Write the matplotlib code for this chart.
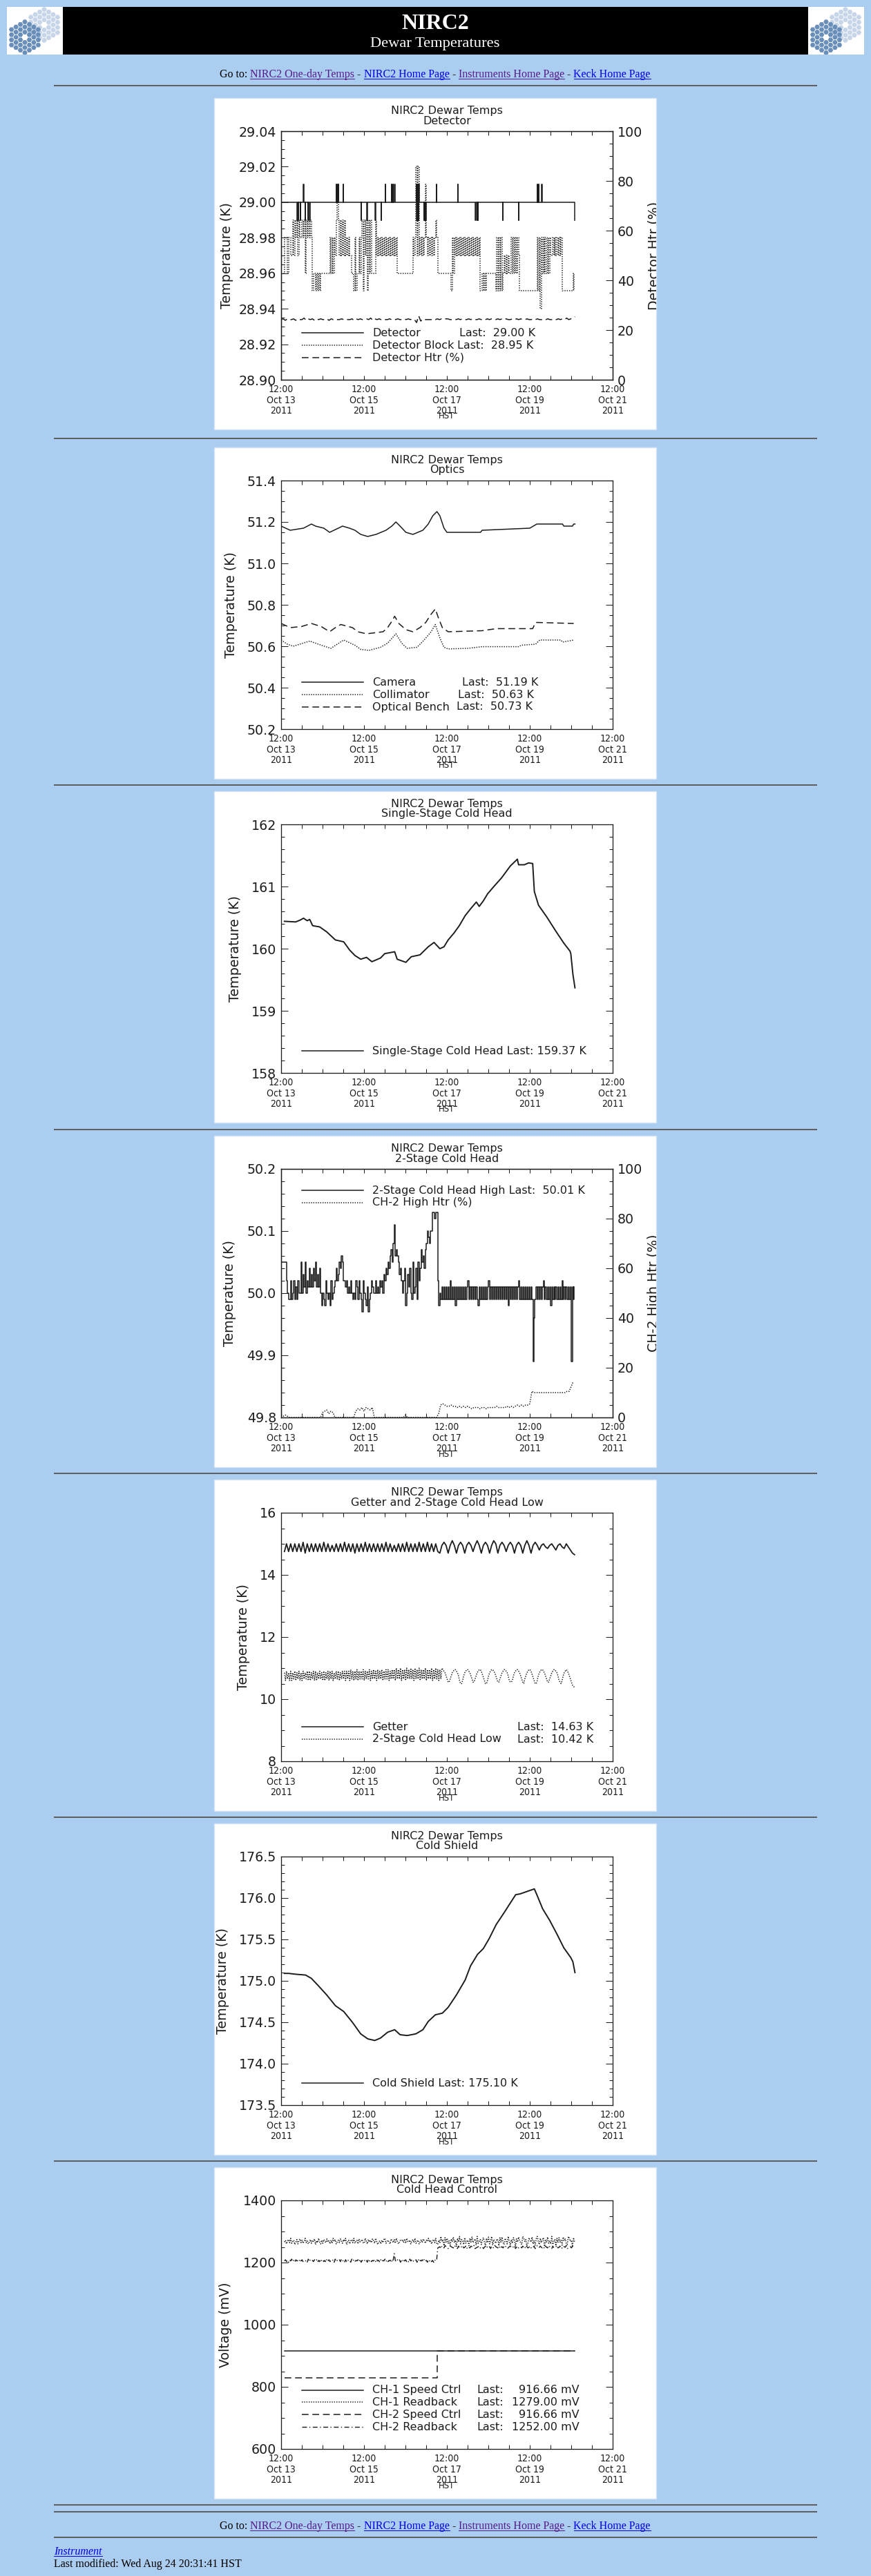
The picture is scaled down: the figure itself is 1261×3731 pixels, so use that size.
import numpy as np
import matplotlib
matplotlib.use("Agg")
import matplotlib.pyplot as plt
from matplotlib.patches import Rectangle, RegularPolygon
from matplotlib.ticker import MultipleLocator, FormatStrFormatter
from matplotlib.transforms import Bbox

plt.rcParams['lines.scale_dashes'] = False
plt.rcParams['font.family'] = ['DejaVu Sans']

# ======================= DATA =======================
# time axis: days since 12:00 Oct 13 2011 (HST)
XTICK_DAYS = [0, 2, 4, 6, 8]
XTICK_LABELS = ["12:00\nOct 13\n2011", "12:00\nOct 15\n2011", "12:00\nOct 17\n2011",
                "12:00\nOct 19\n2011", "12:00\nOct 21\n2011"]

# --- Panel 1: Detector ---
DET_PTS = [(0.0, 29.00), (0.39, 28.99), (0.396, 29.00), (0.41, 28.99), (0.416, 29.00),
           (0.46, 28.99), (0.466, 29.00), (0.54, 29.01), (0.546, 29.00), (0.58, 28.99),
           (0.586, 29.00), (0.65, 28.99), (0.656, 29.00), (0.68, 28.99), (0.696, 29.00),
           (1.33, 29.01), (1.336, 29.00), (1.36, 29.01), (1.366, 29.00), (1.38, 29.01),
           (1.386, 29.00), (1.50, 29.01), (1.506, 29.00), (1.93, 28.99), (1.936, 29.00),
           (2.07, 28.99), (2.076, 29.00), (2.27, 28.99), (2.276, 29.00), (2.41, 28.99),
           (2.416, 29.00), (2.51, 29.01), (2.516, 29.00), (2.66, 29.01), (2.666, 29.00),
           (2.70, 29.01), (2.706, 29.00), (2.74, 29.01), (2.746, 29.00), (3.26, 29.01),
           (3.266, 29.00), (3.27, 28.99), (3.276, 29.00), (3.28, 29.01), (3.286, 29.00),
           (3.29, 28.99), (3.296, 29.00), (3.30, 29.01), (3.306, 29.00), (3.31, 28.99),
           (3.316, 29.00), (3.32, 29.01), (3.326, 29.00), (3.45, 28.99), (3.456, 29.00),
           (3.47, 28.99), (3.476, 29.00), (3.49, 28.99), (3.496, 29.00), (3.75, 29.01),
           (3.756, 29.00), (4.26, 29.01), (4.266, 29.00), (4.69, 28.99), (4.696, 29.00),
           (4.73, 28.99), (4.736, 29.00), (4.75, 28.99), (4.756, 29.00), (5.35, 28.99),
           (5.356, 29.00), (5.73, 28.99), (5.736, 29.00), (6.18, 29.01), (6.186, 29.00),
           (6.21, 29.01), (6.216, 29.00), (6.29, 29.01), (6.296, 29.00), (7.08, 28.99),
           (7.09, 28.99)]
# Detector block, sampled every 0.025 d; code -> 28.94 + 0.01*index in BLK_ALPHA
BLK_ALPHA = "4567890ab"
BLK_SEGS = ["66688", "86887", "797989798", "898969898985", "6656565666", "66666", "686868",
            "7909797979", "787877", "6658", "566868", "959795969", "6666",
            "97878787878787878", "7878", "66666666666666", "6878", "b7b7",
            "87878a87878787898", "6666666666666", "5868", "787878787878787878787878",
            "55656566", "6666666", "5858585", "6767676", "686868687", "5555555555555555",
            "585848686868687", "7878787878", "555555555556", "5"]
# Detector heater %, every 0.05 d; code -> 23.0 + 0.3*digit
HTR_CODES = ("4535445354" "4635453545" "4453545445" "4544535454" "4546354545" "4454545445"
             "4545409254" "4445454545" "5445454544" "5454454545" "4544545454" "4545454454"
             "4545445454" "45454546" "4568")

# --- Panel 2: Optics ---
CAM_PTS = [(0.0, 51.18), (0.22, 51.16), (0.54, 51.17), (0.73, 51.19), (0.83, 51.18),
           (1.03, 51.17), (1.17, 51.15), (1.38, 51.17), (1.48, 51.18), (1.65, 51.17),
           (1.78, 51.16), (1.92, 51.14), (2.09, 51.13), (2.29, 51.14), (2.53, 51.16),
           (2.67, 51.18), (2.77, 51.20), (2.87, 51.18), (3.01, 51.15), (3.18, 51.14),
           (3.42, 51.16), (3.55, 51.19), (3.66, 51.23), (3.76, 51.25), (3.83, 51.23),
           (3.93, 51.17), (4.00, 51.15), (4.81, 51.15), (4.85, 51.16), (6.00, 51.17),
           (6.17, 51.19), (6.79, 51.19), (6.82, 51.18), (7.03, 51.18), (7.06, 51.19),
           (7.09, 51.19)]
COL_PTS = [(0.0, 50.63), (0.15, 50.61), (0.29, 50.60), (0.69, 50.625), (0.97, 50.605),
           (1.20, 50.59), (1.51, 50.63), (1.78, 50.605), (1.92, 50.585), (2.12, 50.58),
           (2.40, 50.595), (2.57, 50.615), (2.77, 50.66), (2.91, 50.615), (3.04, 50.59),
           (3.28, 50.595), (3.45, 50.63), (3.62, 50.67), (3.72, 50.705), (3.83, 50.64),
           (3.93, 50.595), (4.03, 50.587), (4.51, 50.59), (4.85, 50.598), (5.73, 50.598),
           (5.80, 50.605), (6.14, 50.61), (6.24, 50.63), (6.75, 50.63), (6.79, 50.62),
           (7.06, 50.63)]
OB_PTS = [(0.0, 50.71), (0.22, 50.69), (0.49, 50.695), (0.73, 50.71), (0.97, 50.695),
          (1.17, 50.67), (1.31, 50.69), (1.44, 50.705), (1.72, 50.69), (1.85, 50.67),
          (2.06, 50.66), (2.46, 50.67), (2.57, 50.69), (2.67, 50.72), (2.74, 50.745),
          (2.84, 50.71), (3.01, 50.68), (3.18, 50.67), (3.35, 50.69), (3.49, 50.715),
          (3.62, 50.755), (3.72, 50.78), (3.79, 50.74), (3.89, 50.69), (4.03, 50.67),
          (4.85, 50.675), (5.19, 50.685), (6.07, 50.685), (6.14, 50.715), (7.06, 50.71)]

# --- Panel 3: Single-stage cold head ---
SS_PTS = [(0.08, 160.44), (0.35, 160.43), (0.46, 160.46), (0.54, 160.49), (0.63, 160.45),
          (0.69, 160.47), (0.76, 160.37), (0.93, 160.35), (1.10, 160.27), (1.31, 160.14),
          (1.51, 160.11), (1.65, 159.98), (1.78, 159.89), (1.92, 159.83), (2.06, 159.86),
          (2.19, 159.79), (2.40, 159.85), (2.50, 159.92), (2.74, 159.95), (2.80, 159.83),
          (3.01, 159.78), (3.14, 159.87), (3.35, 159.90), (3.55, 160.03), (3.69, 160.10),
          (3.83, 160.00), (3.93, 160.03), (4.03, 160.14), (4.17, 160.25), (4.30, 160.37),
          (4.44, 160.53), (4.57, 160.64), (4.71, 160.75), (4.78, 160.68), (4.88, 160.77),
          (4.98, 160.88), (5.12, 160.99), (5.32, 161.14), (5.53, 161.33), (5.70, 161.44),
          (5.73, 161.35), (5.87, 161.35), (5.97, 161.38), (6.07, 161.37), (6.11, 160.92),
          (6.21, 160.70), (6.41, 160.51), (6.62, 160.29), (6.82, 160.09), (6.97, 159.96),
          (6.99, 159.92), (7.04, 159.59), (7.09, 159.37)]

# --- Panel 4: 2-stage cold head (every 0.025 d; code -> 49.88 + 0.01*index) ---
CH2_ALPHA = "0123456789abcdefghijklmnop"
CH2_SEGS = ["hhhhh", "ecb", "bebcebdbec", "chcfdhce", "dgdfdgehdfdgc", "acbaec", "bcaebcd",
            "egefhgihe", "edecdcec", "bcbedbec", "b9ecbad9bcedc", "cecdcedec", "fegfhg",
            "ijhknij", "ihfge", "cegacfdgc", "bhcdgbhe", "gjhigj", "kmlkmm", "ppopp", "eac",
            "bdbdbdbdbebdbdadbdbdbdbdbdebdbdbdbdbadbdbdbdbdebdbdbdbdbdbdbdbdbdadbdbdbdbdebdbdbdbdbdbdbdbdbdb"[:89],
            "18", "bdbdbdbdebdbdbdadbdbdbdbdbebdbdbdbd", "1", "dbd"]
# CH-2 high heater %, every 0.05 d; code -> 0.5*index
HTR2_ALPHA = "0123456789abcdefghijklmnopqrst"
HTR2_SEGS = ["21210000000000000000", "456354", "0000000000", "576858768", "000000000000000",
             "20", "00000000000000", "3ab", "a99a99898989", "87888788788889888898",
             "989a9a9aab", "lkkkkkkkkkkkkkkkkll", "pt"]

# --- Panel 5: Getter / 2-stage low ---
GET_ALPHA = "0123456789ab"      # 14.6 + 0.05*index, every 0.05 d from 0.08
GET_SEGS = ["3838383839", "2838383839", "3837383839", "3838283839", "3838383839",
            "3837383839", "3838393839", "38383",
            "2797", "27a7", "2797", "2797", "37a7", "2797", "27a8", "2797", "3797", "2797",
            "27a7", "2797", "4786", "5786", "4786", "5", "86421"]
LOW_ALPHA = "0123456789abcdef"  # 10.3 + 0.05*index, every 0.025 d from 0.08
LOW_SEGS = ["b6c7b6c6b7", "c6b7c6b6c7", "b7c6c6b7c6", "c6b7c7b6c6", "b7c6c7c6b7",
            "c7c6b7c7c6", "c7c6d7c6c7", "d6c7c7d6c7", "c7d6c7d7c6", "d7c7d6c7d7",
            "d6c7d7d6e7", "d7e6d7d6e7", "d7e7d6e7d7", "e6d7d7e6d7", "d7e6d7e7d6", "d7e",
            "dcb975579bcd", "dcb964469bcd", "dcb975579bcd", "dca864469bcd", "dcb975579bcd",
            "dcb965569bcd", "dcb975479bcd", "dca864469bcd", "dcb975579bcd", "dcb965469bcd",
            "cb975322"]

# --- Panel 6: Cold shield ---
CS_PTS = [(0.08, 175.09), (0.18, 175.09), (0.35, 175.08), (0.59, 175.07), (0.73, 175.03),
          (0.90, 174.94), (1.10, 174.83), (1.31, 174.70), (1.51, 174.63), (1.72, 174.50),
          (1.92, 174.36), (2.09, 174.30), (2.26, 174.28), (2.40, 174.31), (2.57, 174.38),
          (2.74, 174.41), (2.87, 174.35), (3.04, 174.34), (3.25, 174.36), (3.42, 174.41),
          (3.55, 174.51), (3.72, 174.59), (3.89, 174.61), (4.03, 174.68), (4.23, 174.83),
          (4.44, 175.01), (4.57, 175.18), (4.74, 175.32), (4.88, 175.39), (5.02, 175.51),
          (5.19, 175.68), (5.39, 175.83), (5.53, 175.94), (5.66, 176.04), (5.77, 176.05),
          (5.94, 176.08), (6.11, 176.11), (6.17, 176.04), (6.31, 175.87), (6.48, 175.73),
          (6.65, 175.57), (6.82, 175.40), (6.99, 175.28), (7.04, 175.23), (7.09, 175.10)]

# --- Panel 7: Cold head control (mV) ---
SPD1_T = [0.08, 7.09]
SPD1_V = [916.66, 916.66]
SPD2_T = [0.08, 3.76, 3.76, 7.09]
SPD2_V = [830.0, 830.0, 916.66, 916.66]
RB_ALPHA = "0123456789abcdefghijklmnopqrstuvwxyz"
RB1_SEGS = ["dgafhcjbeg", "9dhaficgbe", "jcfadhbgei", "9fcjdagbhe", "cidfagbjeh", "adgcifbhej",
            "9dgafhcjbe", "gaidfhcbje", "ahdgcifbje", "9dfagchjbe", "gdaifchbje", "adgfhcibje",
            "dgafhcjbeg", "adhcifbgej", "dgafhcjb",
            "9gcmeh7kdj", "bf8ielcg6j", "dmahf9kbeg", "7jdlcfi8mb", "eh9gkd6jcl", "afm8hebig7",
            "kdlc9jfame", "8hbkg6idlf", "c9mjeh7bkg", "dlaf8ime9j", "chk6gdlbfa", "m9eh7jckdg",
            "8lfib9mjeg7kd"]   # 1240 + 2*index
RB2_SEGS = ["5746375846", "3756485746", "5638475647", "5736485746", "3857465738", "4657485637",
            "4756385746", "5748365746", "3857465748", "5637465847", "465837h647", "5736485746",
            "3857465738", "4657485637", "57463758",
            "qrsptrqusr", "pqtsrqusrp", "tqrsuqrtps", "rqtsrupqrs", "tqrsprtuqr", "sptrqusrqt",
            "prsqturpqs", "trqsuprtqr", "sqtrpusqrt", "qsrtpqusrt", "rqsptrqusr", "ptqrsuqrtp",
            "qtsrupqrsqtrs"]   # 1195 + 2*index

# ======================= HELPERS =======================
def decode(segs, alpha, base, step):
    s = "".join(segs)
    return np.array([base + step * alpha.index(c) for c in s])

def pts(p):
    a = np.array(p)
    return a[:, 0], a[:, 1]

W, H = 1261, 3731
PX = 0.72
INK = '#1c1c1c'
BLUE_BG = '#ABCDEF'
SERIF = ['Liberation Serif', 'DejaVu Serif']
SOLID = dict(linestyle='-', lw=1.1)
DOT = dict(linestyle=(0, (1.0, 1.4)), lw=1.1)
DASH = dict(linestyle=(0, (7.0, 4.0)), lw=1.1)
DASHDOT = dict(linestyle=(0, (5.0, 2.5, 1.0, 2.5)), lw=1.0)

fig = plt.figure(figsize=(W / 100, H / 100), dpi=100)
fig.patch.set_facecolor(BLUE_BG)
bg = fig.add_axes([0, 0, 1, 1])
bg.set_xlim(0, W)
bg.set_ylim(H, 0)
bg.axis('off')
renderer = fig.canvas.get_renderer()

def hr(y):
    bg.add_patch(Rectangle((78, y - 1), 1105, 2, facecolor='#5e5e5e', edgecolor='none'))

def text_run(segs, x0, baseline, size, center=True):
    objs = []
    for txt, col, ul, style in segs:
        t = bg.text(0, baseline, txt, color=col, fontsize=size * PX, family=SERIF,
                    style=style, va='baseline', ha='left')
        objs.append((t, col, ul))
    widths = [o[0].get_window_extent(renderer).width for o in objs]
    x = x0 - sum(widths) / 2 if center else x0
    for (t, col, ul), w in zip(objs, widths):
        t.set_x(x)
        if ul:
            bg.plot([x, x + w], [baseline + 2, baseline + 2], color=col, lw=1.0 * PX)
        x += w

PURPLE, LINK = '#551A8B', '#0000EE'
GOTO = [("Go to: ", 'black', False, 'normal'), ("NIRC2 One-day Temps", PURPLE, True, 'normal'),
        (" - ", 'black', False, 'normal'), ("NIRC2 Home Page", LINK, True, 'normal'),
        (" - ", 'black', False, 'normal'), ("Instruments Home Page", PURPLE, True, 'normal'),
        (" - ", 'black', False, 'normal'), ("Keck Home Page", LINK, True, 'normal')]

# ======================= HEADER =======================
def logo(x0, y0=10):
    clip = Rectangle((x0, y0), 81, 69, facecolor='white', edgecolor='none')
    bg.add_patch(clip)
    s = 4.3
    for cx, cy, col in [(x0 + 54, y0 + 26, '#c6d5e8'), (x0 + 26, y0 + 44, '#6a8eba')]:
        for q in range(-3, 4):
            for r in range(-3, 4):
                if max(abs(q), abs(r), abs(q + r)) > 3 or (q == 0 and r == 0):
                    continue
                hx = cx + 1.5 * s * q
                hy = cy + np.sqrt(3) * s * (r + q / 2)
                p = RegularPolygon((hx, hy), 6, radius=s * 0.88, orientation=np.pi / 6,
                                   facecolor=col, edgecolor='none')
                bg.add_patch(p)
                p.set_clip_path(clip)

logo(10)
logo(1170)
bg.add_patch(Rectangle((91, 10), 1079, 69, facecolor='black', edgecolor='none'))
bg.text(630, 42, "NIRC2", color='white', fontsize=32 * PX, family=SERIF, weight='bold',
        ha='center', va='baseline')
bg.text(630, 68, "Dewar Temperatures", color='white', fontsize=22.5 * PX, family=SERIF,
        ha='center', va='baseline')
text_run(GOTO, 630, 112, 16)
hr(124)

# ======================= PANELS =======================
PANEL_TOPS = [142, 648, 1146, 1645, 2143, 2641, 3139]
AXL, AXT, AXW, AXH = 97, 48, 480, 360

def make_panel(i, subtitle, ylim, major, minor, fmt, ylabel, ylab_x,
               twin=None):
    top = PANEL_TOPS[i]
    bg.add_patch(Rectangle((310, top), 640, 480, facecolor='white', edgecolor='#d6e4f5',
                           lw=1.0, zorder=1))
    ax = fig.add_axes([(310 + AXL) / W, 1 - (top + AXT + AXH) / H, AXW / W, AXH / H])
    ax.set_facecolor('none')
    ax.set_xlim(0, 8)
    ax.set_ylim(*ylim)
    ax.set_xticks(XTICK_DAYS)
    ax.set_xticklabels(XTICK_LABELS, fontsize=14 * PX, linespacing=1.16, color=INK,
                       fontstretch='condensed')
    ax.xaxis.set_minor_locator(MultipleLocator(0.5))
    ax.yaxis.set_major_locator(MultipleLocator(major))
    ax.yaxis.set_minor_locator(MultipleLocator(minor))
    ax.yaxis.set_major_formatter(FormatStrFormatter(fmt))
    ax.tick_params(axis='x', which='both', direction='in', length=6 * PX, width=PX,
                   top=True, pad=5, color=INK)
    ax.tick_params(axis='y', which='major', direction='in', length=10 * PX, width=PX,
                   right=(twin is None), labelsize=19 * PX, labelcolor=INK, pad=5, color=INK)
    ax.tick_params(axis='y', which='minor', direction='in', length=5 * PX, width=PX,
                   right=(twin is None), color=INK)
    for sp in ax.spines.values():
        sp.set_linewidth(1.3 * PX)
        sp.set_color(INK)
    cx = 310 + AXL + AXW / 2
    bg.text(cx, top + 18.5, "NIRC2 Dewar Temps", ha='center', va='center',
            fontsize=16 * PX, color=INK)
    bg.text(cx, top + 33, subtitle, ha='center', va='center', fontsize=16 * PX, color=INK)
    bg.text(310 + ylab_x, top + AXT + AXH / 2, ylabel, rotation=90, ha='center',
            va='center', fontsize=19 * PX, color=INK)
    bg.text(cx, top + 461, "HST", ha='center', va='center', fontsize=13 * PX, color=INK,
            fontstretch='condensed')
    ax2 = None
    if twin is not None:
        rlabel, rmajor, rminor = twin
        ax2 = ax.twinx()
        ax2.set_facecolor('none')
        ax2.set_ylim(0, 100)
        ax2.yaxis.set_major_locator(MultipleLocator(rmajor))
        ax2.yaxis.set_minor_locator(MultipleLocator(rminor))
        ax2.tick_params(which='major', direction='in', length=10 * PX, width=PX,
                        labelsize=19 * PX, labelcolor=INK, pad=5, color=INK)
        ax2.tick_params(which='minor', direction='in', length=5 * PX, width=PX, color=INK)
        for sp in ax2.spines.values():
            sp.set_linewidth(1.3 * PX)
            sp.set_color(INK)
        t = bg.text(310 + 637, top + AXT + AXH / 2, rlabel, rotation=90, ha='center',
                    va='center', fontsize=19 * PX, color=INK)
        t.set_clip_on(True)
        t.set_clip_box(Bbox.from_extents(310, H - (top + 480), 950, H - top))
    return ax, ax2, top

def legend(top, rows, ys):
    for (style, texts), y in zip(rows, ys):
        bg.plot([310 + 127, 310 + 216], [top + y, top + y], color=INK, **style)
        for x, s, ha in texts:
            bg.text(310 + x, top + y, s, ha=ha, va='center', fontsize=16 * PX, color=INK)

ROWS = lambda n: [376 - 17.8 * (n - 1 - k) for k in range(n)]

# ---------- Panel 1 ----------
ax, ax2, top = make_panel(0, "Detector", (28.90, 29.04), 0.02, 0.005, '%.2f',
                          "Temperature (K)", 19, twin=("Detector Htr (%)", 20, 5))
t, v = pts(DET_PTS)
ax.plot(t, v, drawstyle='steps-post', color=INK, **SOLID)
blk = decode(BLK_SEGS, BLK_ALPHA, 28.94, 0.01)
ax.plot(np.linspace(0, 0.025 * (len(blk) - 1), len(blk)), blk, drawstyle='steps-post',
        color=INK, **DOT)
htr = decode([HTR_CODES], "0123456789", 23.0, 0.3)
ax2.plot(np.linspace(0, 7.09, len(htr)), htr, color=INK, **DASH)
legend(top, [(SOLID, [(229, "Detector", 'left'), (355, "Last:  29.00 K", 'left')]),
             (DOT, [(229, "Detector Block", 'left'), (352, "Last:  28.95 K", 'left')]),
             (DASH, [(229, "Detector Htr (%)", 'left')])], ROWS(3))

# ---------- Panel 2 ----------
ax, _, top = make_panel(1, "Optics", (50.2, 51.4), 0.2, 0.05, '%.1f', "Temperature (K)", 24)
for p, st in [(CAM_PTS, SOLID), (COL_PTS, DOT), (OB_PTS, DASH)]:
    t, v = pts(p)
    ax.plot(t, v, color=INK, **st)
legend(top, [(SOLID, [(229, "Camera", 'left'), (359, "Last:  51.19 K", 'left')]),
             (DOT, [(229, "Collimator", 'left'), (353, "Last:  50.63 K", 'left')]),
             (DASH, [(229, "Optical Bench", 'left'), (351, "Last:  50.73 K", 'left')])],
       ROWS(3))

# ---------- Panel 3 ----------
ax, _, top = make_panel(2, "Single-Stage Cold Head", (158, 162), 1, 0.2, '%d',
                        "Temperature (K)", 30)
t, v = pts(SS_PTS)
ax.plot(t, v, color=INK, lw=1.4)
legend(top, [(SOLID, [(229, "Single-Stage Cold Head Last: 159.37 K", 'left')])], ROWS(1))

# ---------- Panel 4 ----------
ax, ax2, top = make_panel(3, "2-Stage Cold Head", (49.8, 50.2), 0.1, 0.02, '%.1f',
                          "Temperature (K)", 23, twin=("CH-2 High Htr (%)", 20, 5))
ch2 = decode(CH2_SEGS, CH2_ALPHA, 49.88, 0.01)
ax.plot(np.linspace(0, 0.025 * (len(ch2) - 1), len(ch2)), ch2, drawstyle='steps-post',
        color=INK, **SOLID)
h2 = decode(HTR2_SEGS, HTR2_ALPHA, 0.0, 0.5)
ax2.plot(np.linspace(0, 0.05 * (len(h2) - 1), len(h2)), h2, color=INK, **DOT)
legend(top, [(SOLID, [(229, "2-Stage Cold Head High Last:  50.01 K", 'left')]),
             (DOT, [(229, "CH-2 High Htr (%)", 'left')])], [79, 96.5])

# ---------- Panel 5 ----------
ax, _, top = make_panel(4, "Getter and 2-Stage Cold Head Low", (8, 16), 2, 0.5, '%d',
                        "Temperature (K)", 42)
gv = decode(GET_SEGS, GET_ALPHA, 14.6, 0.05)
ax.plot(np.linspace(0.08, 0.08 + 0.05 * (len(gv) - 1), len(gv)), gv, color=INK, lw=1.3)
lv = decode(LOW_SEGS, LOW_ALPHA, 10.3, 0.05)
ax.plot(np.linspace(0.08, 0.08 + 0.025 * (len(lv) - 1), len(lv)), lv, color=INK, **DOT)
legend(top, [(SOLID, [(229, "Getter", 'left'), (439, "Last:  14.63 K", 'left')]),
             (DOT, [(229, "2-Stage Cold Head Low", 'left'), (439, "Last:  10.42 K", 'left')])],
       ROWS(2))

# ---------- Panel 6 ----------
ax, _, top = make_panel(5, "Cold Shield", (173.5, 176.5), 0.5, 0.1, '%.1f',
                        "Temperature (K)", 12)
t, v = pts(CS_PTS)
ax.plot(t, v, color=INK, lw=1.4)
legend(top, [(SOLID, [(229, "Cold Shield Last: 175.10 K", 'left')])], ROWS(1))

# ---------- Panel 7 ----------
ax, _, top = make_panel(6, "Cold Head Control", (600, 1400), 200, 50, '%d',
                        "Voltage (mV)", 17)
rb1 = decode(RB1_SEGS, RB_ALPHA, 1240, 2)
rb2 = decode(RB2_SEGS, RB_ALPHA, 1195, 2)
ax.plot(SPD1_T, SPD1_V, color=INK, **SOLID)
ax.plot(np.linspace(0.08, 0.08 + 0.025 * (len(rb1) - 1), len(rb1)), rb1, color=INK, **DOT)
ax.plot(SPD2_T, SPD2_V, color=INK, **DASH)
ax.plot(np.linspace(0.08, 0.08 + 0.025 * (len(rb2) - 1), len(rb2)), rb2, color=INK, **DASHDOT)
legend(top, [(SOLID, [(229, "CH-1 Speed Ctrl", 'left'), (380, "Last:", 'left'), (529, "916.66 mV", 'right')]),
             (DOT, [(229, "CH-1 Readback", 'left'), (380, "Last:", 'left'), (529, "1279.00 mV", 'right')]),
             (DASH, [(229, "CH-2 Speed Ctrl", 'left'), (380, "Last:", 'left'), (529, "916.66 mV", 'right')]),
             (DASHDOT, [(229, "CH-2 Readback", 'left'), (380, "Last:", 'left'), (529, "1252.00 mV", 'right')])],
       ROWS(4))

# hr between panels
for a, b in zip(PANEL_TOPS[:-1], PANEL_TOPS[1:]):
    hr((a + 480 + b) / 2)

# ======================= FOOTER =======================
hr(3628)
hr(3638)
text_run(GOTO, 630, 3663, 16)
hr(3675)
text_run([("Instrument", LINK, True, 'italic')], 78, 3700, 16, center=False)
text_run([("Last modified: Wed Aug 24 20:31:41 HST", 'black', False, 'normal')], 78, 3718, 16,
         center=False)

fig.savefig("out.png", dpi=100, facecolor=fig.get_facecolor())
